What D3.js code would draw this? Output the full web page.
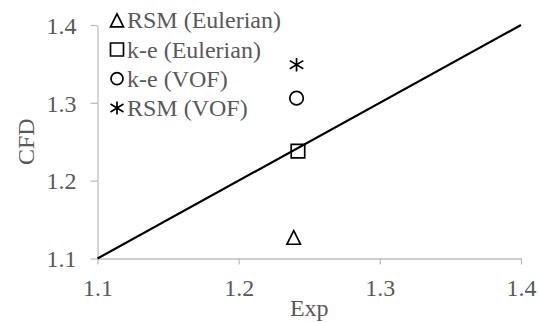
<!DOCTYPE html>
<html>
<head>
<meta charset="utf-8">
<script src="https://cdn.jsdelivr.net/npm/d3@7"></script>
<style>
  html, body { margin: 0; padding: 0; background: #fff; }
  svg { display: block; }
  text { font-family: "Liberation Serif", "Times New Roman", serif; fill: #595959; }
</style>
</head>
<body>
<svg id="chart" width="540" height="322"></svg>
<script>
// Model results against the experimental value
const seriesNames = ["RSM (Eulerian)", "k-e (Eulerian)", "k-e (VOF)", "RSM (VOF)"];
const seriesSymbols = ["triangle", "square", "circle", "star"];
const expValues = [1.239, 1.242, 1.241, 1.241];
const cfdValues = [1.127, 1.238, 1.306, 1.349];

// Line of perfect agreement
const parityLine = [[1.1, 1.1], [1.4, 1.4]];

const xTicks = [1.1, 1.2, 1.3, 1.4];
const yTicks = [1.1, 1.2, 1.3, 1.4];
const xTitle = "Exp";
const yTitle = "CFD";

const svg = d3.select("#chart");
const margin = { left: 97.5, right: 19, top: 25, bottom: 63.5 };
const W = 540, H = 322;

const x = d3.scaleLinear().domain([1.1, 1.4]).range([margin.left, W - margin.right]);
const y = d3.scaleLinear().domain([1.1, 1.4]).range([H - margin.bottom, margin.top]);

const axisColor = "#bfbfbf";
const fontSize = 24;
const serif = '"Liberation Serif", "Times New Roman", serif';

// Axes
const xAxis = svg.append("g")
  .attr("transform", `translate(0,${y(1.1)})`)
  .call(d3.axisBottom(x).tickValues(xTicks).tickFormat(d3.format(".1f")).tickSizeInner(6).tickSizeOuter(0).tickPadding(14));
const yAxis = svg.append("g")
  .attr("transform", `translate(${x(1.1)},0)`)
  .call(d3.axisLeft(y).tickValues(yTicks).tickFormat(d3.format(".1f")).tickSizeInner(7).tickSizeOuter(0).tickPadding(14));

[xAxis, yAxis].forEach(g => {
  g.attr("font-family", serif);
  g.select(".domain").attr("stroke", axisColor).attr("stroke-width", 1.3);
  g.selectAll(".tick line").attr("stroke", axisColor).attr("stroke-width", 1.3);
  g.selectAll(".tick text")
    .attr("fill", "#595959")
    .style("font-family", serif)
    .style("font-size", fontSize + "px");
});
xAxis.selectAll(".tick text").attr("dy", "0.71em");
yAxis.selectAll(".tick text").attr("dy", "0.34em");

// Axis titles
svg.append("text")
  .attr("x", (x(1.1) + x(1.4)) / 2)
  .attr("y", 316)
  .attr("text-anchor", "middle")
  .style("font-size", fontSize + "px")
  .text(xTitle);
svg.append("text")
  .attr("transform", `translate(34,${(y(1.1) + y(1.4)) / 2}) rotate(-90)`)
  .attr("text-anchor", "middle")
  .style("font-size", fontSize + "px")
  .text(yTitle);

// Parity line
svg.append("path")
  .datum(parityLine)
  .attr("d", d3.line().x(d => x(d[0])).y(d => y(d[1])))
  .attr("fill", "none")
  .attr("stroke", "#000")
  .attr("stroke-width", 2.2);

// Marker shapes
function markerPath(kind, s) {
  const h = s / 2;
  if (kind === "triangle") return `M0,${-h}L${h},${h}L${-h},${h}Z`;
  if (kind === "square") return `M${-h},${-h}H${h}V${h}H${-h}Z`;
  if (kind === "circle") return `M${h},0A${h},${h} 0 1,1 ${-h},0A${h},${h} 0 1,1 ${h},0Z`;
  // star: X with a vertical bar
  return `M${-h},${-h * 0.6}L${h},${h * 0.6}M${-h},${h * 0.6}L${h},${-h * 0.6}M0,${-h}V${h}`;
}

const pts = seriesNames.map((n, i) => ({ name: n, sym: seriesSymbols[i], ex: expValues[i], cfd: cfdValues[i] }));

svg.append("g").selectAll("path")
  .data(pts)
  .join("path")
  .attr("transform", d => `translate(${x(d.ex)},${y(d.cfd)})`)
  .attr("d", d => markerPath(d.sym, 13.5))
  .attr("fill", "none")
  .attr("stroke", "#000")
  .attr("stroke-width", 1.7);

// Legend
const legend = svg.append("g");
const rowBase = [28.3, 57.5, 86.7, 116];
pts.forEach((d, i) => {
  legend.append("path")
    .attr("transform", `translate(117,${rowBase[i] - 8})`)
    .attr("d", markerPath(d.sym, d.sym === "circle" ? 12 : 13))
    .attr("fill", "none")
    .attr("stroke", "#000")
    .attr("stroke-width", 1.7);
  legend.append("text")
    .attr("x", 127)
    .attr("y", rowBase[i])
    .style("font-size", fontSize + "px")
    .text(d.name);
});
</script>
</body>
</html>
